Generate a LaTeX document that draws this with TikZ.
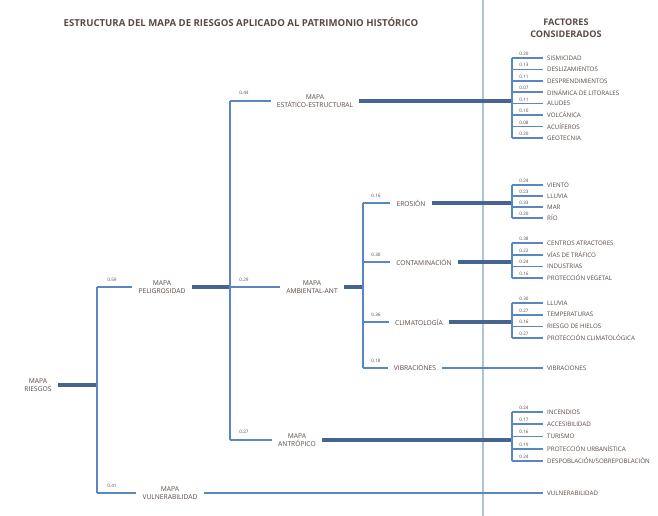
\documentclass[tikz,border=0pt]{standalone}
\usepackage{fontspec}
\setmainfont{Open Sans}
\definecolor{blueline}{HTML}{5B87C0}
\definecolor{thickline}{HTML}{46648F}
\definecolor{sepline}{HTML}{A9C6DF}
\definecolor{txt}{HTML}{5A4A44}
\begin{document}
\begin{tikzpicture}[x=1pt,y=-1pt,
  br/.style={draw=blueline,line width=1.6pt},
  thk/.style={draw=thickline,line width=3.3pt},
  lab/.style={font=\fontsize{6.7}{7.4}\selectfont,text=txt,align=center,inner xsep=6pt,inner ysep=1pt},
  fac/.style={font=\fontsize{6.2}{6.5}\selectfont,text=txt,anchor=west,inner xsep=4pt,inner ysep=0.5pt},
  val/.style={font=\fontsize{4.6}{5}\selectfont,text=txt,inner sep=0.5pt},
  ttl/.style={font=\bfseries\fontsize{9.6}{11}\selectfont,text=txt,align=center}]
\useasboundingbox (0,0) rectangle (658,516);
\fill[white] (0,0) rectangle (658,516);
% separator
\coordinate (s1) at (483,0);
\coordinate (s2) at (483,516);
\draw[draw=sepline,line width=1.8pt] (s1) -- (s2);
% titles
\node[ttl] (title) at (241,22) {ESTRUCTURA DEL MAPA DE RIESGOS APLICADO AL PATRIMONIO HISTÓRICO};
\node[ttl,font=\bfseries\fontsize{9.1}{12.5}\selectfont] (fct) at (566,28) {FACTORES\\CONSIDERADOS};
% main nodes
\node[lab] (riesgos) at (38,385) {MAPA\\RIESGOS};
\node[lab] (pelig) at (162,287) {MAPA\\PELIGROSIDAD};
\node[lab] (vuln) at (170,493) {MAPA\\VULNERABILIDAD};
\node[lab] (estr) at (315,101) {MAPA\\ESTÁTICO-ESTRUCTURAL};
\node[lab] (ambi) at (312,287) {MAPA\\AMBIENTAL-ANT};
\node[lab] (antr) at (297,440) {MAPA\\ANTRÓPICO};
\node[lab] (eros) at (411,203) {EROSIÓN};
\node[lab] (cont) at (424,262) {CONTAMINACIÓN};
\node[lab] (clim) at (419,322) {CLIMATOLOGÍA};
\node[lab] (vibr) at (415,368) {VIBRACIONES};
% junction coordinates
\coordinate (a0) at (97,385);
\coordinate (a1) at (97,287);
\coordinate (a2) at (97,493);
\coordinate (b1) at (230,101);
\coordinate (b2) at (230,287);
\coordinate (b3) at (230,440);
\coordinate (c0) at (363,287);
\coordinate (c1) at (363,203);
\coordinate (c2) at (363,262);
\coordinate (c3) at (363,322);
\coordinate (c4) at (363,368);
% level 1
\draw[thk] (riesgos.east) -- (a0);
\draw[br] (a1) -- (a2);
\draw[br] (a1) -- (pelig.west);
\draw[br] (a2) -- (vuln.west);
\node[val] (v059) at (112,280) {0.59};
\node[val] (v041) at (112,486) {0.41};
% level 2
\draw[thk] (pelig.east) -- (b2);
\draw[br] (b1) -- (b3);
\draw[br] (b1) -- (estr.west);
\draw[br] (b2) -- (ambi.west);
\draw[br] (b3) -- (antr.west);
\node[val] (v044) at (244,93) {0.44};
\node[val] (v029) at (244,280) {0.29};
\node[val] (v027) at (244,432) {0.27};
% level 3
\draw[thk] (ambi.east) -- (c0);
\draw[br] (c1) -- (c4);
\draw[br] (c1) -- (eros.west);
\draw[br] (c2) -- (cont.west);
\draw[br] (c3) -- (clim.west);
\draw[br] (c4) -- (vibr.west);
\node[val] (v016) at (376,196) {0.16};
\node[val] (v030) at (376,255) {0.30};
\node[val] (v036) at (376,315) {0.36};
\node[val] (v018) at (376,361) {0.18};
% factor groups
\foreach \nm/\src/\yc/\ya/\yb in {g1/estr/101/58/138, g2/eros/203/185/218, g3/cont/262/243/278, g4/clim/322/303/338, g5/antr/440/412/461}{
  \coordinate (\nm c) at (512,\yc);
  \coordinate (\nm a) at (512,\ya);
  \coordinate (\nm b) at (512,\yb);
  \draw[thk] (\src.east) -- (\nm c);
  \draw[br] (\nm a) -- (\nm b);
}
% group 1
\foreach \i/\y/\v/\t in {1/58/0.20/SISMICIDAD, 2/69.4/0.13/DESLIZAMIENTOS, 3/80.9/0.11/DESPRENDIMIENTOS, 4/92.3/0.07/DINÁMICA DE LITORALES, 5/103.7/0.11/ALUDES, 6/115.1/0.10/VOLCÁNICA, 7/126.6/0.08/ACUÍFEROS, 8/138/0.20/GEOTECNIA}{
  \coordinate (g1j\i) at (512,\y);
  \node[fac] (g1f\i) at (543,\y) {\t};
  \draw[br] (g1j\i) -- (g1f\i.west);
  \node[val] (g1v\i) at (524,\y-4.2) {\v};
}
% group 2
\foreach \i/\y/\v/\t in {1/185/0.24/VIENTO, 2/196/0.23/LLUVIA, 3/207/0.33/MAR, 4/218/0.20/RÍO}{
  \coordinate (g2j\i) at (512,\y);
  \node[fac] (g2f\i) at (543,\y) {\t};
  \draw[br] (g2j\i) -- (g2f\i.west);
  \node[val] (g2v\i) at (524,\y-4.2) {\v};
}
% group 3
\foreach \i/\y/\v/\t in {1/243/0.38/CENTROS ATRACTORES, 2/254.7/0.22/VÍAS DE TRÁFICO, 3/266.3/0.24/INDUSTRIAS, 4/278/0.16/PROTECCIÓN VEGETAL}{
  \coordinate (g3j\i) at (512,\y);
  \node[fac] (g3f\i) at (543,\y) {\t};
  \draw[br] (g3j\i) -- (g3f\i.west);
  \node[val] (g3v\i) at (524,\y-4.2) {\v};
}
% group 4
\foreach \i/\y/\v/\t in {1/303/0.30/LLUVIA, 2/314.7/0.27/TEMPERATURAS, 3/326.3/0.16/RIESGO DE HIELOS, 4/338/0.27/PROTECCIÓN CLIMATOLÓGICA}{
  \coordinate (g4j\i) at (512,\y);
  \node[fac] (g4f\i) at (543,\y) {\t};
  \draw[br] (g4j\i) -- (g4f\i.west);
  \node[val] (g4v\i) at (524,\y-4.2) {\v};
}
% group 5
\foreach \i/\y/\v/\t in {1/412/0.24/{INCENDIOS}, 2/424.25/0.17/{ACCESIBILIDAD}, 3/436.5/0.16/{TURISMO}, 4/448.75/0.19/{PROTECCIÓN URBANÍSTICA}, 5/461/0.24/{DESPOBLACIÓN/SOBREPOBLACIÓN}}{
  \coordinate (g5j\i) at (512,\y);
  \node[fac] (g5f\i) at (543,\y) {\t};
  \draw[br] (g5j\i) -- (g5f\i.west);
  \node[val] (g5v\i) at (524,\y-4.2) {\v};
}
% single factors
\node[fac] (vibf) at (543,368) {VIBRACIONES};
\draw[br] (vibr.east) -- (vibf.west);
\node[fac] (vulf) at (543,493) {VULNERABILIDAD};
\draw[br] (vuln.east) -- (vulf.west);
\end{tikzpicture}
\end{document}
